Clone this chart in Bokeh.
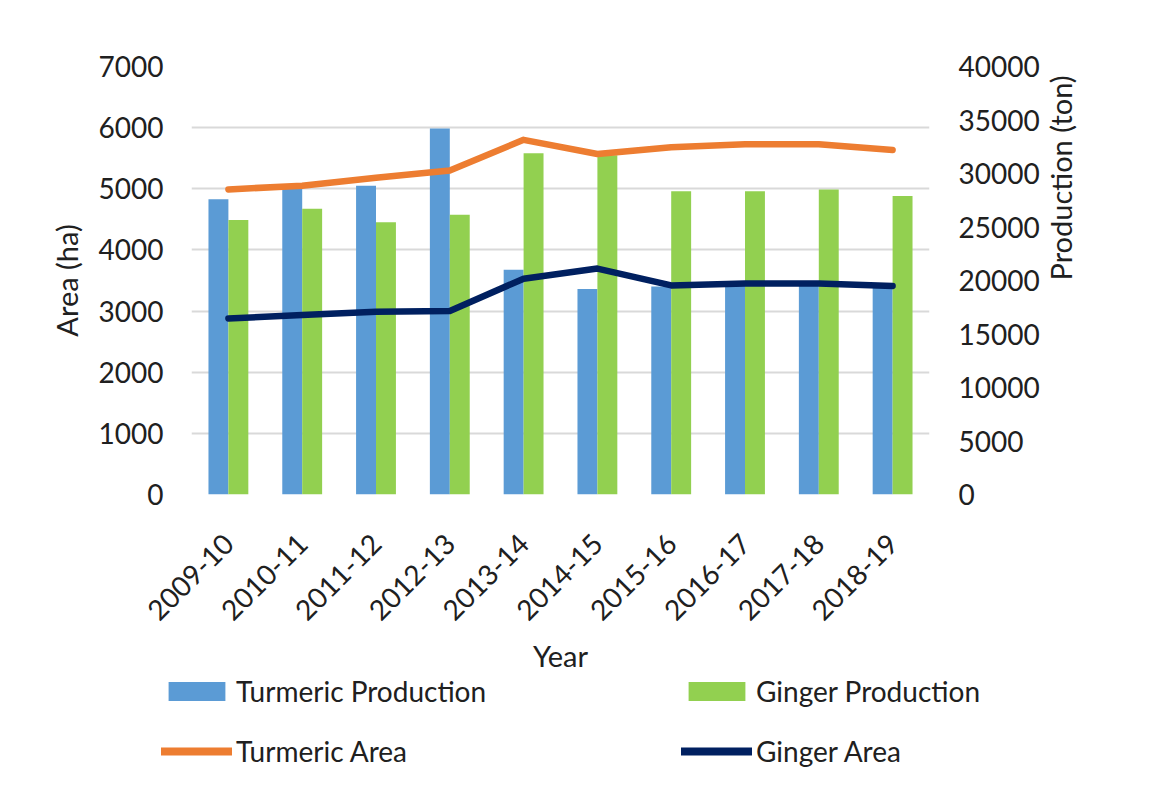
from math import pi
from bokeh.plotting import figure
from bokeh.layouts import column
from bokeh.models import (Range1d, LinearAxis, FixedTicker, FactorRange, Legend,
                          LegendItem, ColumnDataSource)
from bokeh.transform import dodge
from bokeh.embed import file_html
from bokeh.resources import INLINE

years = ["2009-10", "2010-11", "2011-12", "2012-13", "2013-14",
         "2014-15", "2015-16", "2016-17", "2017-18", "2018-19"]
turmeric_production = [27600, 28750, 28850, 34200, 21000, 19200, 19450, 19550, 19550, 19450]
ginger_production = [25650, 26700, 25450, 26150, 31900, 31700, 28350, 28350, 28500, 27900]
turmeric_area = [4990, 5050, 5180, 5300, 5800, 5570, 5680, 5730, 5730, 5635]
ginger_area = [2880, 2935, 2990, 3000, 3530, 3695, 3420, 3450, 3450, 3410]
area_ticks = [0, 1000, 2000, 3000, 4000, 5000, 6000, 7000]
production_ticks = [0, 5000, 10000, 15000, 20000, 25000, 30000, 35000, 40000]

FONT = "Lato"
TXT = "#202020"
BLUE, GREEN, ORANGE, NAVY = "#5B9BD5", "#92D050", "#ED7D31", "#002060"

src = ColumnDataSource(dict(year=years, tp=turmeric_production, gp=ginger_production,
                            ta=turmeric_area, ga=ginger_area))

p = figure(x_range=FactorRange(*years), y_range=Range1d(0, 7000),
           width=1110, height=675, output_backend="svg", toolbar_location=None,
           min_border_left=191, min_border_right=181, min_border_top=66,
           min_border_bottom=180,
           outline_line_color=None, background_fill_color="white")
p.frame_align = False
p.extra_y_ranges = {"prod": Range1d(0, 40000)}

b1 = p.vbar(x=dodge("year", -0.135, range=p.x_range), top="tp", width=0.27,
            source=src, y_range_name="prod", fill_color=BLUE, line_color=None)
b2 = p.vbar(x=dodge("year", 0.135, range=p.x_range), top="gp", width=0.27,
            source=src, y_range_name="prod", fill_color=GREEN, line_color=None)
l1 = p.line(x="year", y="ta", source=src, line_color=ORANGE, line_width=6.5,
            line_cap="round", line_join="round")
l2 = p.line(x="year", y="ga", source=src, line_color=NAVY, line_width=6.5,
            line_cap="round", line_join="round")

la = p.yaxis[0]
la.ticker = FixedTicker(ticks=area_ticks)
la.axis_label = "Area (ha)"

ra = LinearAxis(y_range_name="prod", ticker=FixedTicker(ticks=production_ticks),
                axis_label="Production (ton)")
p.add_layout(ra, "right")
ra.axis_label_orientation = pi / 2

xa = p.xaxis[0]
xa.axis_label = "Year"
xa.major_label_orientation = pi / 4

for ax in [la, ra, xa]:
    ax.axis_line_color = None
    ax.major_tick_line_color = None
    ax.minor_tick_line_color = None
    ax.major_tick_out = 0
    ax.major_tick_in = 0
    ax.major_label_text_font = FONT
    ax.major_label_text_font_size = "28px"
    ax.major_label_text_color = TXT
    ax.axis_label_text_font = FONT
    ax.axis_label_text_font_size = "29px"
    ax.axis_label_text_font_style = "normal"
    ax.axis_label_text_color = TXT

la.major_label_standoff = 28
la.axis_label_standoff = 12
ra.major_label_standoff = 29
ra.axis_label_standoff = 18
xa.major_label_standoff = 44
xa.axis_label_standoff = 5

p.xgrid.grid_line_color = None
p.ygrid.grid_line_color = "#d9d9d9"
p.ygrid.grid_line_width = 2

# legend strip below the chart; its key renderers are hidden so that only
# the legend keys are drawn
lf = figure(width=1110, height=105, output_backend="svg", toolbar_location=None,
            x_range=FactorRange(*years), y_range=Range1d(-1000000, -900000),
            x_axis_location=None, y_axis_location=None,
            min_border_left=0, min_border_right=0, min_border_top=0, min_border_bottom=0,
            outline_line_color=None, background_fill_color="white")
lf.frame_align = False
lf.grid.visible = False
d1 = lf.vbar(x="year", top="tp", width=0.27, source=src, fill_color=BLUE, line_color=None)
d2 = lf.vbar(x="year", top="gp", width=0.27, source=src, fill_color=GREEN, line_color=None)
d3 = lf.line(x="year", y="ta", source=src, line_color=ORANGE, line_width=8, line_cap="round")
d4 = lf.line(x="year", y="ga", source=src, line_color=NAVY, line_width=8, line_cap="round")
for r in (d1, d2, d3, d4):
    r.visible = False


def add_key(label, renderer, x, y):
    leg = Legend(items=[LegendItem(label=label, renderers=[renderer])],
                 location=(x, y), glyph_width=71, glyph_height=24, label_height=24,
                 label_standoff=4, padding=0, margin=0, spacing=0,
                 border_line_color=None, background_fill_alpha=0,
                 label_text_font=FONT, label_text_font_size="28px",
                 label_text_color=TXT)
    lf.add_layout(leg, "center")


add_key("Turmeric Production", d1, 161, 72)
add_key("Ginger Production", d2, 681, 72)
add_key("Turmeric Area", d3, 161, 12)
add_key("Ginger Area", d4, 681, 12)

layout = column(p, lf, spacing=0)
open("out.html", "w").write(file_html(layout, INLINE))
